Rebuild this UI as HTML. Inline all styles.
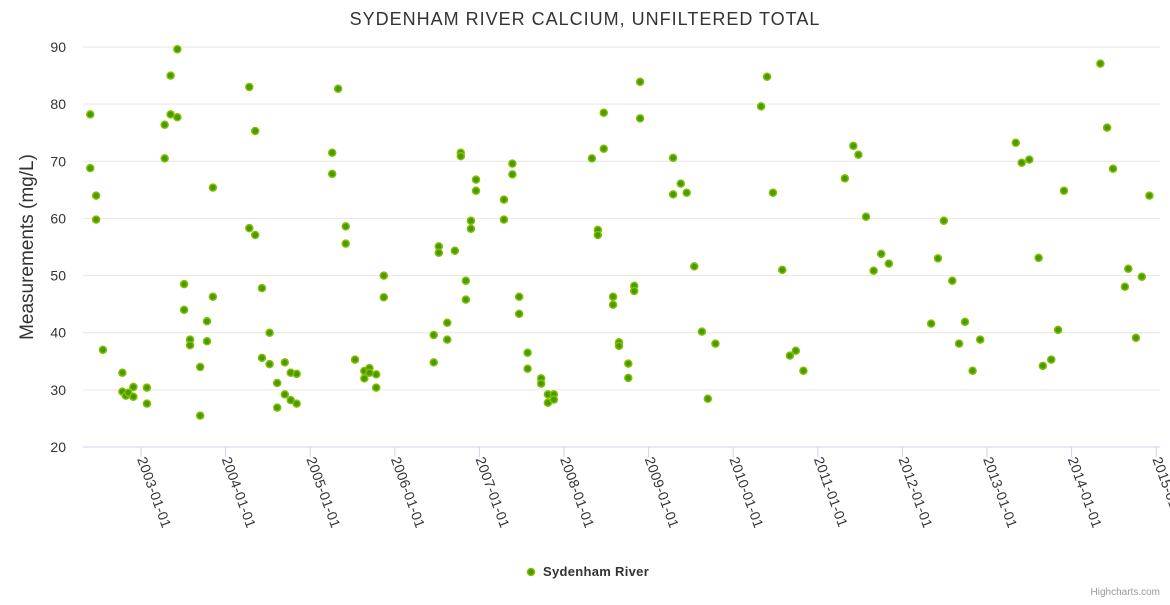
<!DOCTYPE html>
<html><head><meta charset="utf-8"><style>
body{margin:0;background:#fff;font-family:"Liberation Sans",sans-serif}
</style></head><body>
<svg id="chart" width="1170" height="600" xmlns="http://www.w3.org/2000/svg" font-family="Liberation Sans, sans-serif">
<text x="585" y="25" text-anchor="middle" font-size="18" fill="#333" letter-spacing="1">SYDENHAM RIVER CALCIUM, UNFILTERED TOTAL</text>
<g id="grid"></g><g id="xaxis"></g><g id="yaxis"></g><g id="pts"></g>
<text transform="translate(33,247) rotate(-90)" text-anchor="middle" font-size="19" fill="#333">Measurements (mg/L)</text>
<g>
<circle cx="531" cy="572" r="3.5" fill="#4b9900" stroke="#80c000" stroke-width="1.5"/>
<text x="543" y="576" font-size="13" font-weight="bold" fill="#333" letter-spacing="0.3">Sydenham River</text></g>
<text x="1160" y="595" text-anchor="end" font-size="10" fill="#999">Highcharts.com</text>
</svg>
<script>
const years=[2002.40,2002.40,2002.47,2002.47,2002.55,2002.78,2002.78,2002.82,2002.85,2002.91,2002.91,2003.07,2003.07,
2003.28,2003.28,2003.35,2003.35,2003.43,2003.43,2003.51,2003.51,2003.58,2003.58,2003.70,2003.70,2003.78,2003.78,2003.85,2003.85,
2004.28,2004.28,2004.35,2004.35,2004.43,2004.43,2004.52,2004.52,2004.61,2004.61,2004.70,2004.70,2004.77,2004.77,2004.84,2004.84,
2005.26,2005.26,2005.33,2005.42,2005.42,2005.53,2005.64,2005.64,2005.70,2005.70,2005.78,2005.78,2005.87,2005.87,
2006.46,2006.46,2006.52,2006.52,2006.62,2006.62,2006.71,2006.78,2006.78,2006.84,2006.84,2006.90,2006.90,2006.96,2006.96,
2007.29,2007.29,2007.39,2007.39,2007.47,2007.47,2007.57,2007.57,2007.73,2007.73,2007.81,2007.81,2007.88,2007.88,
2008.33,2008.40,2008.40,2008.47,2008.47,2008.58,2008.58,2008.65,2008.65,2008.76,2008.76,2008.83,2008.83,2008.90,2008.90,
2009.29,2009.29,2009.38,2009.45,2009.54,2009.63,2009.70,2009.79,
2010.33,2010.40,2010.47,2010.58,2010.67,2010.74,2010.83,
2011.32,2011.42,2011.48,2011.57,2011.66,2011.75,2011.84,
2012.34,2012.42,2012.49,2012.59,2012.67,2012.74,2012.83,2012.92,
2013.34,2013.41,2013.50,2013.61,2013.66,2013.76,2013.84,2013.91,
2014.34,2014.42,2014.49,2014.63,2014.67,2014.76,2014.83,2014.92];
const values=[78.2,68.8,64,59.8,37,33,29.7,29,29.5,30.5,28.8,30.4,27.6,
70.5,76.4,85,78.2,89.6,77.7,48.5,44,38.8,37.8,34,25.5,42,38.5,65.4,46.3,
83,58.3,75.3,57.1,47.8,35.6,40,34.5,31.2,26.9,34.8,29.2,28.2,33,32.8,27.6,
71.5,67.8,82.7,58.6,55.6,35.3,33.3,32,33.8,33,32.7,30.4,50,46.2,
39.6,34.8,55.1,54,41.75,38.8,54.35,71.5,70.9,49.1,45.8,59.6,58.2,66.8,64.85,
63.3,59.8,69.6,67.7,46.3,43.3,36.5,33.7,32,31.1,29.2,27.75,29.2,28.3,
70.5,58,57.1,78.5,72.2,46.3,44.9,38.3,37.7,34.6,32.1,48.2,47.3,83.9,77.5,
70.6,64.2,66.1,64.5,51.6,40.2,28.45,38.1,
79.6,84.8,64.5,51,36,36.85,33.35,
67,72.7,71.15,60.3,50.85,53.8,52.1,
41.6,53,59.6,49.1,38.1,41.9,33.35,38.8,
73.25,69.75,70.3,53.1,34.2,35.3,40.5,64.85,
87.1,75.9,68.7,48.05,51.2,39.1,49.8,64];
const yTicks=[20,30,40,50,60,70,80,90];
const xTickYears=[2003,2004,2005,2006,2007,2008,2009,2010,2011,2012,2013,2014,2015];
const NS='http://www.w3.org/2000/svg';
const L=83,R=1160,T=47,B=447;
function X(y){return 141+(y-2003)*84.6;}
function Y(v){return B-(v-20)/70*(B-T);}
function mk(tag,at,parent){const e=document.createElementNS(NS,tag);for(const k in at)e.setAttribute(k,at[k]);parent.appendChild(e);return e;}
const grid=document.getElementById('grid'),ya=document.getElementById('yaxis'),xa=document.getElementById('xaxis'),pts=document.getElementById('pts');
yTicks.forEach(t=>{
 const l=mk('line',{x1:L,x2:R,y1:Y(t),y2:Y(t),stroke:t==20?'#ccd6eb':'#e6e6e6','stroke-width':1},grid);
 
 
 const tx=mk('text',{x:66,y:Y(t)+5,'text-anchor':'end','font-size':14,fill:'#333'},ya);
 tx.textContent=t;
 
 
});
xTickYears.forEach(yr=>{
 const x=X(yr);
 const t=mk('line',{x1:x,x2:x,y1:B,y2:B+10,stroke:'#ccd6eb'},xa);
 
 
 const tx=mk('text',{transform:`translate(${x-4},${B+12}) rotate(70)`,'font-size':14,fill:'#333','letter-spacing':0.3},xa);
 tx.textContent=yr+'-01-01';
 
 
});
years.forEach((yr,i)=>{
 const c=mk('circle',{cx:X(yr),cy:Y(values[i]),r:3.5,fill:'#4b9900',stroke:'#80c000','stroke-width':1.5},pts);
 
 
});
</script>
</body></html>
